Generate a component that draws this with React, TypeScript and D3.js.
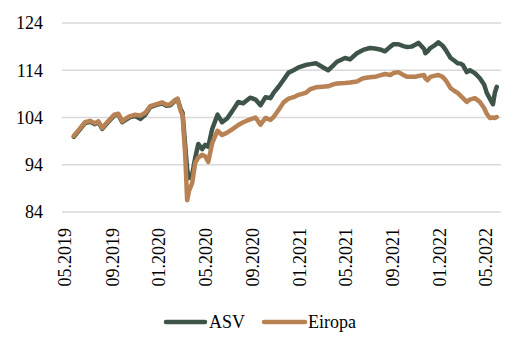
import React from "react";
import * as d3 from "d3";

const dates: string[] = [
  "2019-05-24","2019-06-09","2019-06-22","2019-07-05","2019-07-18","2019-07-27","2019-08-06","2019-08-21",
  "2019-09-06","2019-09-17","2019-09-27","2019-10-08","2019-10-18","2019-10-31","2019-11-13","2019-11-26",
  "2019-12-09","2019-12-24","2020-01-09","2020-01-20","2020-01-30","2020-02-10","2020-02-18","2020-02-26",
  "2020-03-02","2020-03-09","2020-03-14","2020-03-19","2020-03-27","2020-04-04","2020-04-12","2020-04-22",
  "2020-04-30","2020-05-08","2020-05-18","2020-06-01","2020-06-13","2020-06-26","2020-07-09","2020-07-25",
  "2020-08-07","2020-08-25","2020-09-08","2020-09-21","2020-10-04","2020-10-17","2020-10-25","2020-11-07",
  "2020-11-20","2020-12-03","2020-12-16","2020-12-29","2021-01-16","2021-01-29","2021-02-12","2021-03-01",
  "2021-03-16","2021-03-29","2021-04-08","2021-04-29","2021-05-12","2021-05-30","2021-06-15","2021-07-03",
  "2021-07-16","2021-07-29","2021-08-11","2021-08-25","2021-09-02","2021-09-15","2021-09-28","2021-10-08",
  "2021-10-19","2021-10-29","2021-11-06","2021-11-21","2021-11-24","2021-11-30","2021-12-07","2021-12-17",
  "2021-12-28","2022-01-08","2022-01-16","2022-01-29","2022-02-08","2022-02-16","2022-02-24","2022-03-02",
  "2022-03-12","2022-03-20","2022-04-02","2022-04-15","2022-04-26","2022-05-03","2022-05-11","2022-05-19",
  "2022-05-24","2022-05-29"
];

const asv: number[] = [
  99.9,101.5,102.8,103.1,102.6,103.0,101.6,103.0,
  104.4,104.6,103.0,103.6,104.1,104.3,103.7,104.6,
  106.2,106.6,107.0,106.5,106.6,107.4,107.9,105.8,
  105.0,98.0,93.0,91.2,91.8,95.5,98.4,97.3,
  98.2,97.8,101.5,104.6,103.0,103.8,105.3,107.3,
  107.0,108.2,107.8,106.6,108.3,108.1,109.2,110.5,
  112.0,113.5,114.0,114.6,115.1,115.3,115.5,114.7,
  114.0,115.0,115.8,116.6,116.3,117.6,118.3,118.7,
  118.6,118.4,118.0,119.0,119.5,119.5,119.1,118.9,
  119.0,119.4,119.8,118.5,117.6,118.0,118.7,119.2,
  119.9,119.2,118.3,116.6,116.0,115.5,115.4,115.1,
  113.6,114.0,113.4,112.3,111.0,109.2,108.0,106.8,
  109.2,110.5
];

const eiropa: number[] = [
  100.1,101.7,103.0,103.3,102.8,103.2,101.8,103.2,
  104.6,104.8,103.2,103.9,104.3,104.6,104.4,105.0,
  106.4,106.8,107.2,106.7,106.8,107.6,108.0,105.4,
  104.5,96.0,86.5,88.5,90.1,94.4,95.5,96.1,
  95.8,94.6,98.5,101.2,100.3,100.8,101.5,102.4,
  103.0,103.6,104.0,102.5,103.9,103.5,104.1,105.6,
  107.2,108.0,108.3,108.8,109.2,110.0,110.4,110.5,
  110.6,111.0,111.2,111.3,111.4,111.6,112.3,112.5,
  112.6,112.9,113.2,113.0,113.4,113.6,113.0,112.6,
  112.6,112.6,112.8,113.0,112.3,111.9,112.6,112.8,
  113.0,112.6,111.9,110.2,109.6,109.2,108.6,108.1,
  107.3,107.8,108.1,107.3,106.0,104.8,103.9,104.0,
  103.9,104.1
];

const yTicks: number[] = [84, 94, 104, 114, 124];
const xTickLabels: string[] = [
  "05.2019","09.2019","01.2020","05.2020","09.2020",
  "01.2021","05.2021","09.2021","01.2022","05.2022"
];
const seriesNames: string[] = ["ASV", "Eiropa"];
const seriesColors: string[] = ["#3e5449", "#b88254"];

const W = 524;
const H = 354;
const FONT = "Liberation Serif, Times New Roman, Tinos, DejaVu Serif, Noto Serif, serif";

export default function App() {
  const parse = d3.timeParse("%Y-%m-%d");
  const parseTick = d3.timeParse("%m.%Y");
  const tickDates = xTickLabels.map((s) => parseTick(s) as Date);

  const x = d3
    .scaleTime()
    .domain([tickDates[0], tickDates[tickDates.length - 1]])
    .range([65, 486]);
  const y = d3.scaleLinear().domain([84, 124]).range([212, 23]);

  const plotLeft = 62;
  const plotRight = 501;

  const seriesData = [asv, eiropa].map((vals) =>
    vals.map((v, i) => ({ d: parse(dates[i]) as Date, v }))
  );

  const line = d3
    .line<{ d: Date; v: number }>()
    .x((p) => x(p.d))
    .y((p) => y(p.v))
    .curve(d3.curveLinear);

  const legendY = 322;
  const legendItems = [
    { x1: 166, x2: 205, tx: 209 },
    { x1: 264, x2: 305, tx: 308 },
  ];

  const textStyle = { fontFamily: FONT, fontSize: "18px" };

  return (
    <svg
      width={W}
      height={H}
      style={{ position: "absolute", left: 0, top: 0, background: "#fff" }}
    >
      {yTicks.map((t) => (
        <g key={t}>
          <line
            x1={plotLeft}
            x2={plotRight}
            y1={y(t)}
            y2={y(t)}
            stroke="#d9d9d9"
            strokeWidth={1.3}
          />
          <text
            x={43}
            y={y(t)}
            dy="0.35em"
            textAnchor="end"
            style={textStyle}
            fill="#000"
          >
            {t}
          </text>
        </g>
      ))}
      {tickDates.map((td, i) => (
        <text
          key={xTickLabels[i]}
          transform={`translate(${x(td)},228) rotate(-90)`}
          dy="0.35em"
          textAnchor="end"
          style={textStyle}
          fill="#000"
        >
          {xTickLabels[i]}
        </text>
      ))}
      {seriesData.map((s, i) => (
        <path
          key={seriesNames[i]}
          d={line(s) || ""}
          fill="none"
          stroke={seriesColors[i]}
          strokeWidth={4.5}
          strokeLinejoin="round"
          strokeLinecap="round"
        />
      ))}
      {legendItems.map((it, i) => (
        <g key={seriesNames[i]}>
          <line
            x1={it.x1}
            x2={it.x2}
            y1={legendY}
            y2={legendY}
            stroke={seriesColors[i]}
            strokeWidth={4.5}
            strokeLinecap="round"
          />
          <text x={it.tx} y={legendY} dy="0.35em" style={textStyle} fill="#000">
            {seriesNames[i]}
          </text>
        </g>
      ))}
    </svg>
  );
}
